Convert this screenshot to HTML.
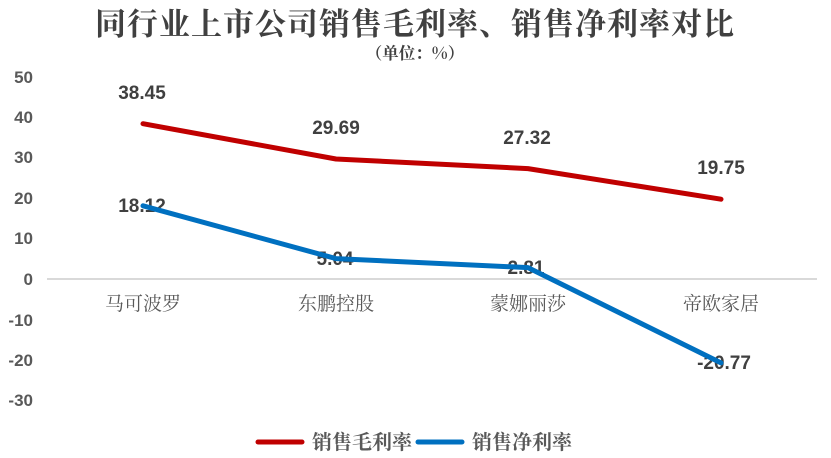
<!DOCTYPE html>
<html><head><meta charset="utf-8">
<style>
html,body{margin:0;padding:0;background:#fff;}
svg{display:block;}
</style></head>
<body>
<svg width="831" height="458" viewBox="0 0 831 458" xmlns="http://www.w3.org/2000/svg">
<rect width="831" height="458" fill="#fff"/>
<text x="415" y="35" text-anchor="middle" font-family="'Noto Serif CJK SC','Liberation Serif',serif" font-size="31" font-weight="bold" fill="#404040" letter-spacing="1">同行业上市公司销售毛利率、销售净利率对比</text>
<text x="415" y="59" text-anchor="middle" font-family="'Noto Serif CJK SC','Liberation Serif',serif" font-size="16.5" font-weight="bold" fill="#404040">（单位：%）</text>
<g font-family="'Liberation Sans',sans-serif" font-size="17" font-weight="bold" fill="#595959" text-anchor="end">
<text x="33" y="83">50</text>
<text x="33" y="123">40</text>
<text x="33" y="163">30</text>
<text x="33" y="204">20</text>
<text x="33" y="244">10</text>
<text x="33" y="285">0</text>
<text x="33" y="326">-10</text>
<text x="33" y="366">-20</text>
<text x="33" y="406">-30</text>
</g>
<line x1="47" y1="279" x2="817" y2="279" stroke="#d9d9d9" stroke-width="2"/>
<g font-family="'Noto Serif CJK SC','Liberation Serif',serif" font-size="19" fill="#595959" text-anchor="middle">
<text x="143" y="310">马可波罗</text>
<text x="336" y="310">东鹏控股</text>
<text x="528" y="310">蒙娜丽莎</text>
<text x="721" y="310">帝欧家居</text>
</g>
<polyline points="143,123.7 336,159 528,168.6 721,199.2" fill="none" stroke="#C00000" stroke-width="5" stroke-linejoin="round" stroke-linecap="round"/>
<g font-family="'Liberation Sans',sans-serif" font-size="19" font-weight="bold" fill="#404040" text-anchor="middle">
<text x="142" y="99">38.45</text>
<text x="336" y="134">29.69</text>
<text x="527" y="144">27.32</text>
<text x="721" y="174">19.75</text>
<text x="142" y="212">18.12</text>
<text x="335" y="265">5.04</text>
<text x="526" y="274">2.81</text>
<text x="724" y="369">-20.77</text>
</g>
<polyline points="143,205.8 336,258.6 528,267.6 721,362.9" fill="none" stroke="#0070C0" stroke-width="5" stroke-linejoin="round" stroke-linecap="round"/>
<line x1="258" y1="442" x2="302" y2="442" stroke="#C00000" stroke-width="5" stroke-linecap="round"/>
<text x="312" y="449" font-family="'Noto Serif CJK SC','Liberation Serif',serif" font-size="20" font-weight="bold" fill="#595959">销售毛利率</text>
<line x1="418" y1="442" x2="462" y2="442" stroke="#0070C0" stroke-width="5" stroke-linecap="round"/>
<text x="472" y="449" font-family="'Noto Serif CJK SC','Liberation Serif',serif" font-size="20" font-weight="bold" fill="#595959">销售净利率</text>
</svg>
</body></html>
